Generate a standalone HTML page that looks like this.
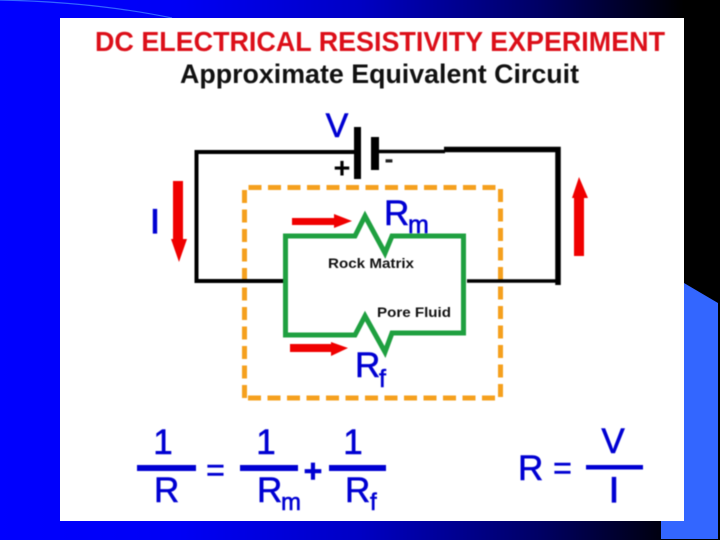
<!DOCTYPE html>
<html><head><meta charset="utf-8"><style>
html,body{margin:0;padding:0;width:720px;height:540px;overflow:hidden;background:#000}
svg{display:block}
text{font-family:"Liberation Sans",Arial,sans-serif}
.b{fill:#0000d2;stroke:#0000d2;stroke-width:.6px}
.b rect{stroke:none}
</style></head><body>
<svg width="720" height="540" viewBox="0 0 720 540" xmlns="http://www.w3.org/2000/svg">
<defs><linearGradient id="g" x1="0" x2="1" y1="0" y2="0">
<stop offset="0" stop-color="#0000ff"/><stop offset=".25" stop-color="#0000f5"/><stop offset=".5" stop-color="#0000c4"/><stop offset=".75" stop-color="#000064"/><stop offset=".95" stop-color="#000000"/><stop offset="1" stop-color="#000000"/></linearGradient></defs>
<rect width="720" height="540" fill="url(#g)"/>
<path d="M0,0 Q95,2 172,18" fill="none" stroke="#3366ff" stroke-width="1.2"/>
<polygon points="684,283 718,303 718,539 661,539 661,521 684,521" fill="#3366ff"/>
<rect x="60" y="18" width="624" height="503" fill="#fff"/>
<g style="filter:blur(.5px)">
<text x="95" y="51" font-size="27.500" font-weight="bold" fill="#dc0f19" textLength="570" lengthAdjust="spacingAndGlyphs">DC ELECTRICAL RESISTIVITY EXPERIMENT</text>
<text x="180" y="83" font-size="26.500" font-weight="bold" fill="#111" textLength="399" lengthAdjust="spacingAndGlyphs">Approximate Equivalent Circuit</text>

<!-- orange box -->
<g fill="none" stroke="#f5a01e" stroke-width="5">
<path d="M244.500,398 V187.500 H500.500 V398 H244.500" stroke-dasharray="13 6.500"/>
</g>

<!-- wires -->
<path d="M354,152 H196.500 V281 H285" fill="none" stroke="#000" stroke-width="4"/>
<path d="M467,281 H558" fill="none" stroke="#000" stroke-width="3.500"/>
<path d="M379,151.500 H445" fill="none" stroke="#000" stroke-width="3.500"/>
<path d="M444,149.500 H558 V285" fill="none" stroke="#000" stroke-width="5.500"/>
<rect x="354" y="127" width="7" height="52" fill="#000"/>
<rect x="371" y="137" width="8" height="33" fill="#000"/>
<text x="342" y="178" font-size="29" font-weight="bold" fill="#000" text-anchor="middle">+</text>
<text x="389" y="168" font-size="27" font-weight="bold" fill="#222" text-anchor="middle">-</text>
<text x="337" y="137" font-size="34" class="b" text-anchor="middle">V</text>
<text x="155" y="233" font-size="34" class="b" text-anchor="middle" style="stroke-width:1.200px">I</text>

<!-- green loop -->
<path d="M285.500,236 H355 L365,216 L385,253 L392,236 H463.500 V333 H392 L385,352 L365,316 L355,335 H285.500 Z" fill="none" stroke="#1fa040" stroke-width="5" stroke-linejoin="miter"/>

<!-- red arrows -->
<polygon points="292,218 334,218 334,214 352,221 334,228 334,225 292,225" fill="#f00000"/>
<polygon points="290,344 331,344 331,342 348,348 331,356 331,352 290,352" fill="#f00000"/>
<polygon points="173,181 183,181 183,239 187,239 179,262 171,239 173,239" fill="#f00000"/>
<polygon points="574,256 584,256 584,198 588,198 579,177 572,198 574,198" fill="#f00000"/>

<text x="384" y="225" font-size="35" class="b">R</text>
<text x="408" y="233" font-size="25" class="b">m</text>
<text x="355" y="377" font-size="35" class="b">R</text>
<text x="379" y="387" font-size="25" class="b">f</text>
<text x="328" y="268" font-size="14" font-weight="bold" fill="#111" textLength="86" lengthAdjust="spacingAndGlyphs">Rock Matrix</text>
<text x="377" y="317" font-size="14" font-weight="bold" fill="#111" textLength="74" lengthAdjust="spacingAndGlyphs">Pore Fluid</text>

<!-- equation -->
<g class="b">
<text x="163" y="454" font-size="35" text-anchor="middle">1</text>
<rect x="137" y="465" width="59" height="6"/>
<text x="154" y="502" font-size="35">R</text>
<text x="215.500" y="481" font-size="32" text-anchor="middle">=</text>
<text x="266" y="454" font-size="35" text-anchor="middle">1</text>
<rect x="240" y="465" width="58" height="6"/>
<text x="257" y="502" font-size="35">R</text>
<text x="281" y="510" font-size="24">m</text>
<text x="313" y="482" font-size="32" font-weight="bold" text-anchor="middle">+</text>
<text x="353" y="454" font-size="35" text-anchor="middle">1</text>
<rect x="329" y="465" width="57" height="6"/>
<text x="345" y="502" font-size="35">R</text>
<text x="370" y="510" font-size="24">f</text>
<text x="518" y="480" font-size="35">R</text>
<text x="562.500" y="479" font-size="32" text-anchor="middle">=</text>
<text x="613" y="453" font-size="35" text-anchor="middle">V</text>
<rect x="586" y="465" width="57" height="4.500"/>
<text x="614" y="502" font-size="35" text-anchor="middle" style="stroke-width:1.200px">I</text>
</g>
</g>
</svg>
</body></html>
